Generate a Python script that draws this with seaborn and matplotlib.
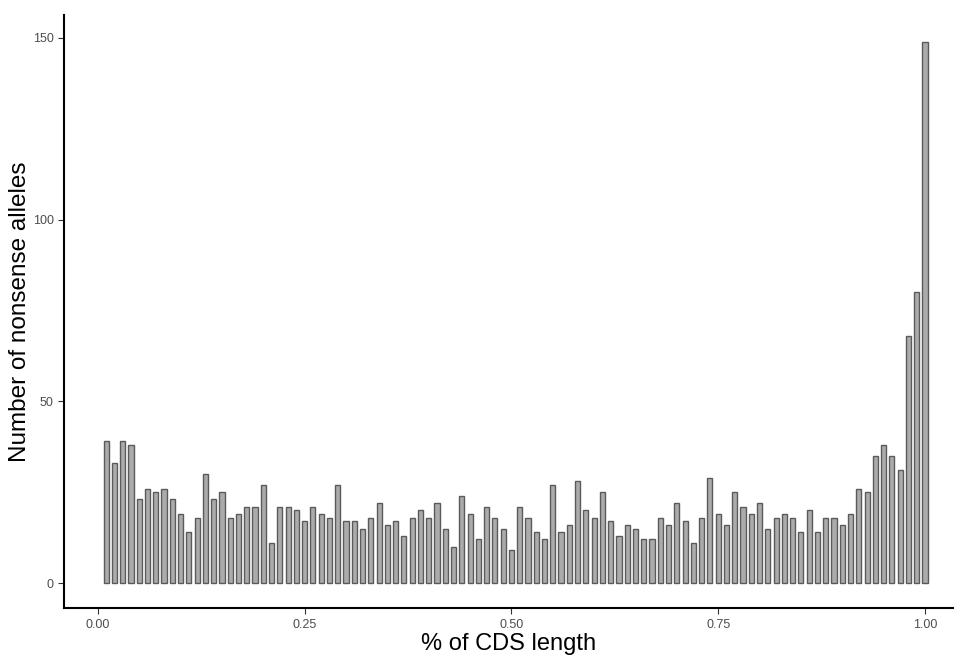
import numpy as np
import pandas as pd
import matplotlib
matplotlib.use("agg")
import matplotlib.pyplot as plt
import seaborn as sns

# position along CDS (fraction) and count of nonsense alleles per bin
cds_pos = [round(0.01 * i, 2) for i in range(1, 101)]
counts = [39, 33, 39, 38, 23, 26, 25, 26, 23, 19,
          14, 18, 30, 23, 25, 18, 19, 21, 21, 27,
          11, 21, 21, 20, 17, 21, 19, 18, 27, 17,
          17, 15, 18, 22, 16, 17, 13, 18, 20, 18,
          22, 15, 10, 24, 19, 12, 21, 18, 15, 9,
          21, 18, 14, 12, 27, 14, 16, 28, 20, 18,
          25, 17, 13, 16, 15, 12, 12, 18, 16, 22,
          17, 11, 18, 29, 19, 16, 25, 21, 19, 22,
          15, 18, 19, 18, 14, 20, 14, 18, 18, 16,
          19, 26, 25, 35, 38, 35, 31, 68, 80, 149]
xticks = [0.0, 0.25, 0.5, 0.75, 1.0]
xtick_labels = ["0.00", "0.25", "0.50", "0.75", "1.00"]
yticks = [0, 50, 100, 150]

df = pd.DataFrame({"pos": cds_pos, "n": counts})

sns.set_style("white")
plt.rcParams["font.family"] = ["Liberation Sans", "DejaVu Sans"]

fig, ax = plt.subplots(figsize=(9.55, 6.56), dpi=100)
fig.subplots_adjust(left=0.067, right=0.998, bottom=0.073, top=0.977)

sns.barplot(data=df, x="pos", y="n", native_scale=True, width=0.62,
            color="#ababab", edgecolor="#5a5a5a", linewidth=1.0,
            saturation=1, ax=ax)

ax.set_xlim(-0.041, 1.034)
ax.set_ylim(-6.9, 156.3)
ax.set_xticks(xticks)
ax.set_xticklabels(xtick_labels)
ax.set_yticks(yticks)
ax.tick_params(axis="both", direction="out", length=4, width=0.8,
               left=True, bottom=True,
               color="#333333", labelcolor="#4d4d4d", labelsize=9)
for side in ["top", "right"]:
    ax.spines[side].set_visible(False)
for side in ["left", "bottom"]:
    ax.spines[side].set_color("black")
    ax.spines[side].set_linewidth(1.5)

ax.set_xlabel("% of CDS length", fontsize=17, color="black", labelpad=2)
ax.set_ylabel("Number of nonsense alleles", fontsize=17.5, color="black", labelpad=1)

fig.savefig("out.png", dpi=100)
